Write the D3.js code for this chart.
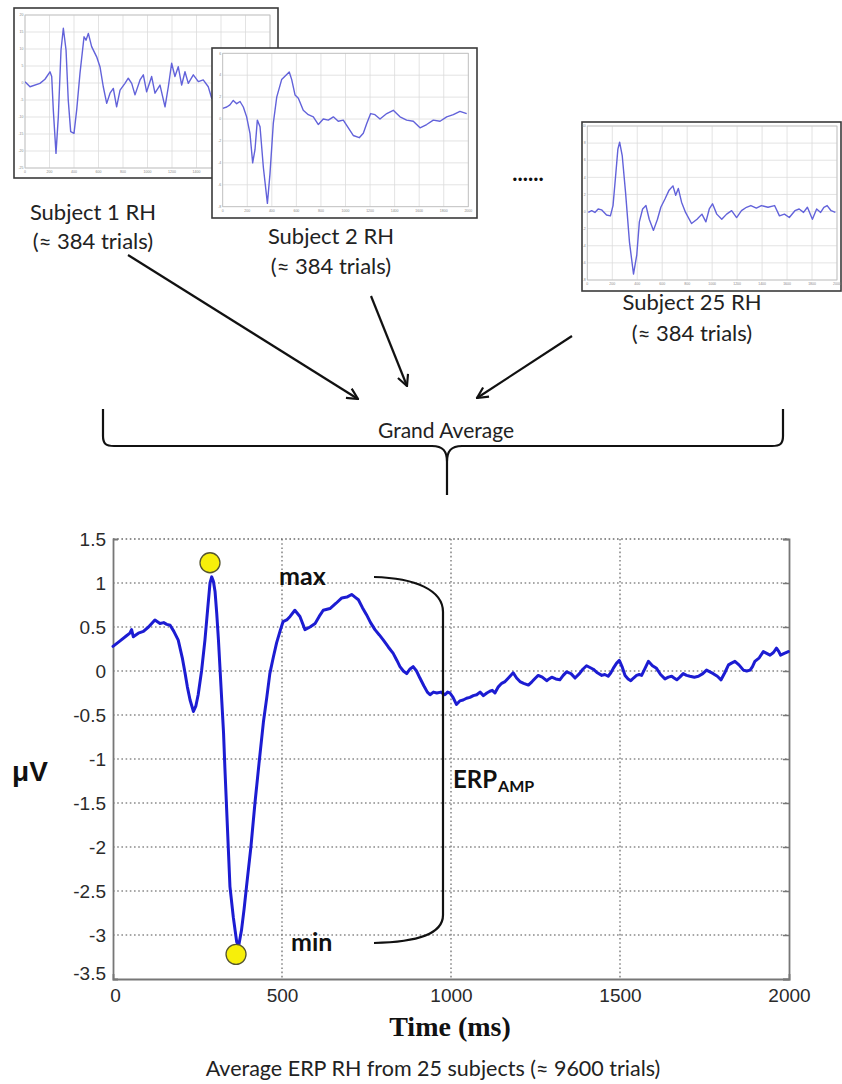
<!DOCTYPE html>
<html>
<head>
<meta charset="utf-8">
<script src="https://cdn.jsdelivr.net/npm/d3@7"></script>
<style>
  html, body { margin: 0; padding: 0; background: #fff; }
  svg { display: block; }
</style>
</head>
<body>
<svg id="chart" width="842" height="1084"></svg>
<script>
// ---------------- DATA ----------------
// Grand average ERP (main chart)
const erpTime = [0,20,40,50,55,60,75,90,105,124,139,150,159,169,180,193,205,213,220,228,238,245,252,262,272,280,287,292,297,302,307,312,317,322,327,331,336,341,346,356,366,372,380,388,395,408,420,432,445,455,464,474,484,494,503,514,524,538,553,568,583,598,610,622,642,660,677,692,706,716,726,738,750,762,775,788,800,815,829,840,849,859,869,878,888,898,908,920,930,938,948,958,970,982,990,997,1006,1016,1026,1036,1046,1056,1066,1076,1086,1096,1106,1115,1122,1130,1140,1150,1160,1172,1184,1194,1204,1215,1229,1240,1250,1258,1270,1283,1290,1298,1310,1322,1332,1342,1355,1367,1380,1390,1401,1411,1421,1433,1446,1455,1465,1473,1480,1490,1498,1506,1515,1524,1532,1540,1549,1557,1564,1574,1584,1596,1608,1620,1633,1643,1653,1660,1668,1677,1687,1697,1707,1720,1732,1745,1756,1766,1776,1788,1799,1810,1821,1830,1840,1852,1865,1875,1885,1892,1899,1912,1924,1934,1944,1954,1963,1970,1975,1986,1998];
const erpValue = [0.28,0.34,0.40,0.43,0.47,0.39,0.43,0.45,0.50,0.58,0.54,0.55,0.53,0.52,0.45,0.35,0.15,-0.02,-0.18,-0.33,-0.46,-0.40,-0.27,0.00,0.35,0.70,1.00,1.07,1.02,0.90,0.65,0.35,0.00,-0.35,-0.70,-1.10,-1.55,-2.00,-2.45,-2.80,-3.08,-3.12,-2.95,-2.70,-2.45,-2.00,-1.50,-1.05,-0.58,-0.30,-0.03,0.15,0.32,0.45,0.56,0.58,0.62,0.69,0.62,0.47,0.50,0.54,0.62,0.69,0.71,0.77,0.83,0.84,0.87,0.84,0.81,0.72,0.64,0.55,0.47,0.41,0.35,0.27,0.20,0.12,0.05,0.00,-0.03,0.02,0.05,0.00,-0.08,-0.17,-0.24,-0.27,-0.24,-0.25,-0.24,-0.27,-0.24,-0.25,-0.30,-0.38,-0.34,-0.33,-0.31,-0.30,-0.28,-0.27,-0.24,-0.28,-0.25,-0.23,-0.22,-0.25,-0.18,-0.14,-0.12,-0.07,-0.02,-0.08,-0.12,-0.14,-0.16,-0.12,-0.08,-0.05,-0.07,-0.11,-0.09,-0.07,-0.09,-0.10,-0.05,-0.01,-0.03,-0.08,-0.03,0.02,0.06,0.04,0.02,-0.02,-0.05,-0.04,-0.06,-0.02,0.03,0.09,0.12,0.05,-0.05,-0.09,-0.11,-0.08,-0.05,-0.04,-0.05,0.03,0.11,0.06,0.03,-0.04,-0.09,-0.07,-0.06,-0.08,-0.10,-0.07,-0.03,-0.05,-0.06,-0.07,-0.06,-0.03,0.01,-0.01,-0.03,-0.06,-0.10,-0.02,0.07,0.09,0.11,0.07,0.01,0.00,0.01,0.05,0.11,0.15,0.22,0.20,0.18,0.21,0.26,0.22,0.18,0.20,0.22];

const extremaTime = [287, 364];
const extremaValue = [1.23, -3.22];
const extremaLabels = ["max", "min"];

const mainXTicks = [0, 500, 1000, 1500, 2000];
const mainYTicks = [-3.5, -3, -2.5, -2, -1.5, -1, -0.5, 0, 0.5, 1, 1.5];

// Individual subjects (small panels)
const subject1Time = [0,41,122,163,204,218,231,253,272,294,313,335,353,373,400,422,449,482,498,517,544,585,612,639,667,694,721,748,776,816,843,871,898,939,966,993,1034,1061,1102,1143,1170,1197,1224,1251,1279,1306,1333,1374,1415,1455,1496,1524,1560,1600];
const subject1Value = [0.4,-1.1,-0.1,1.1,3.3,1.9,-7.9,-20.7,-9.9,9.7,16.1,9.7,-5,-14.3,-14.8,-7.9,2.9,13.6,12.6,14.6,10.7,7.7,4.8,-1.1,-6,-3,-1.6,-7,-2.1,-0.1,1.4,-0.1,-3.5,0.9,2.4,-2.6,1.9,-3,-0.6,-7,-1.1,5.8,1.9,4.8,-0.6,3.3,-0.1,2.4,0.4,0.9,-1.1,-4.5,-2.0,0.5];
const subject1YTicks = [-25,-20,-15,-10,-5,0,5,10,15,20];

const subject2Time = [0,33,59,86,114,141,168,195,222,244,263,282,304,331,364,385,412,440,480,507,542,562,589,616,656,697,738,779,819,860,901,941,982,1023,1063,1112,1145,1173,1205,1240,1281,1336,1389,1444,1498,1552,1607,1661,1715,1770,1824,1878,1932,1987];
const subject2Value = [0.98,1.1,1.3,1.7,1.4,1.6,1.1,0.2,-1.3,-4.0,-2.8,-0.1,-0.7,-4.4,-7.7,-5.0,-0.4,2.0,3.6,3.9,4.3,3.6,2.2,1.9,0.8,0.4,0.2,-0.5,0,-0.1,0.2,-0.2,-0.1,-0.8,-1.5,-1.7,-1.3,-0.4,0.5,0.4,0,0.5,0.8,0.2,-0.1,-0.2,-0.8,-0.5,-0.1,-0.2,0.2,0.4,0.7,0.5];
const subject2YTicks = [-8,-6,-4,-2,0,2,4,6];

const subject25Time = [8,35,61,87,114,154,185,206,227,245,259,280,306,338,370,396,417,443,470,496,530,562,589,623,655,686,708,729,755,787,835,879,918,950,977,1003,1037,1077,1116,1156,1196,1235,1275,1310,1354,1394,1447,1500,1539,1579,1618,1663,1697,1732,1763,1803,1837,1869,1895,1921,1953,1987];
const subject25Value = [-0.1,0.1,-0.1,0.3,0.2,-0.4,-0.5,0.7,4.2,7.3,8.1,6.5,2.3,-3.6,-7.3,-5.1,-1.2,0.3,0.7,-0.9,-2.2,-0.9,0.5,1.5,2.5,3.0,1.9,2.7,1.1,-0.1,-1.4,-0.9,-0.3,-1.2,0.3,0.9,-0.3,-0.9,-0.3,0.1,-0.7,0.1,0.5,0.7,0.4,0.7,0.5,0.7,-0.5,-0.3,-0.7,0.1,0.3,-0.1,0.5,-0.9,0.3,-0.1,0.5,0.7,0.1,-0.1];
const subject25YTicks = [-8,-6,-4,-2,0,2,4,6,8,10];

const smallXTicks = [0,200,400,600,800,1000,1200,1400,1600,1800,2000];
const subjectNames = ["Subject 1 RH", "Subject 2 RH", "Subject 25 RH"];
const trialsLabel = "(\u2248 384 trials)";

// ---------------- DRAWING ----------------
const svg = d3.select("#chart");
svg.append("rect").attr("width", 842).attr("height", 1084).attr("fill", "#fff");

const labelFont = "Lato, 'Open Sans', sans-serif";
const arialFont = "'Liberation Sans', Arial, sans-serif";

function drawSmall(cfg) {
  const g = svg.append("g");
  g.append("rect")
    .attr("x", cfg.box[0]).attr("y", cfg.box[1])
    .attr("width", cfg.box[2] - cfg.box[0]).attr("height", cfg.box[3] - cfg.box[1])
    .attr("fill", "#fff").attr("stroke", "#3a3a3a").attr("stroke-width", 1.6);
  const x = d3.scaleLinear().domain([0, 2000]).range([cfg.plot[0], cfg.plot[2]]);
  const y = d3.scaleLinear().domain(cfg.yDomain).range([cfg.plot[3], cfg.plot[1]]);
  const clipId = "clip" + cfg.id;
  g.append("clipPath").attr("id", clipId).append("rect")
    .attr("x", cfg.plot[0]).attr("y", cfg.plot[1])
    .attr("width", cfg.plot[2] - cfg.plot[0]).attr("height", cfg.plot[3] - cfg.plot[1]);
  g.append("g").selectAll("line").data(smallXTicks).join("line")
    .attr("x1", d => x(d)).attr("x2", d => x(d))
    .attr("y1", cfg.plot[1]).attr("y2", cfg.plot[3])
    .attr("stroke", "#dcdcdc").attr("stroke-width", 0.8);
  g.append("g").selectAll("line").data(cfg.yTicks).join("line")
    .attr("x1", cfg.plot[0]).attr("x2", cfg.plot[2])
    .attr("y1", d => y(d)).attr("y2", d => y(d))
    .attr("stroke", "#dcdcdc").attr("stroke-width", 0.8);
  g.append("rect")
    .attr("x", cfg.plot[0]).attr("y", cfg.plot[1])
    .attr("width", cfg.plot[2] - cfg.plot[0]).attr("height", cfg.plot[3] - cfg.plot[1])
    .attr("fill", "none").attr("stroke", "#bdbdbd").attr("stroke-width", 0.8);
  g.append("g").selectAll("text").data(smallXTicks).join("text")
    .attr("x", d => x(d)).attr("y", cfg.plot[3] + 5)
    .attr("text-anchor", "middle").attr("font-size", 3.5)
    .attr("font-family", arialFont).attr("fill", "#888").text(d => d);
  g.append("g").selectAll("text").data(cfg.yTicks).join("text")
    .attr("x", cfg.plot[0] - 1.5).attr("y", d => y(d) + 1.2)
    .attr("text-anchor", "end").attr("font-size", 3.5)
    .attr("font-family", arialFont).attr("fill", "#888").text(d => d);
  const line = d3.line().x(d => x(d[0])).y(d => y(d[1]));
  g.append("path")
    .datum(d3.zip(cfg.time, cfg.value))
    .attr("clip-path", `url(#${clipId})`)
    .attr("d", line).attr("fill", "none")
    .attr("stroke", "#6262da").attr("stroke-width", 1.4)
    .attr("stroke-linejoin", "round");
}

drawSmall({ id: 1, box: [14, 8, 278, 178], plot: [25, 15, 270, 168], yDomain: [-25, 20],
  yTicks: subject1YTicks, time: subject1Time, value: subject1Value });
drawSmall({ id: 2, box: [212, 48, 477, 218], plot: [222.7, 53.3, 468.3, 206.7], yDomain: [-8, 6],
  yTicks: subject2YTicks, time: subject2Time, value: subject2Value });
drawSmall({ id: 25, box: [582, 122, 841, 291], plot: [587.3, 126, 837, 280], yDomain: [-8, 10],
  yTicks: subject25YTicks, time: subject25Time, value: subject25Value });

// subject captions
const capPos = [[93, 220, 249], [331, 244, 274], [692, 310, 341]];
subjectNames.forEach((name, i) => {
  svg.append("text").attr("x", capPos[i][0]).attr("y", capPos[i][1])
    .attr("text-anchor", "middle").attr("font-family", labelFont).attr("font-size", 22)
    .attr("fill", "#222").text(name);
  svg.append("text").attr("x", capPos[i][0]).attr("y", capPos[i][2])
    .attr("text-anchor", "middle").attr("font-family", labelFont).attr("font-size", 22)
    .attr("fill", "#222").text(trialsLabel);
});
svg.append("text").attr("x", 528).attr("y", 181).attr("text-anchor", "middle")
  .attr("font-family", labelFont).attr("font-weight", "bold").attr("font-size", 22)
  .attr("fill", "#111").text("......");

// arrows
const defs = svg.append("defs");
defs.append("marker").attr("id", "arrowhead").attr("viewBox", "0 0 12 12")
  .attr("refX", 11).attr("refY", 6).attr("markerWidth", 13).attr("markerHeight", 13)
  .attr("markerUnits", "userSpaceOnUse").attr("orient", "auto")
  .append("path").attr("d", "M1,1 L11,6 L1,11").attr("fill", "none")
  .attr("stroke", "#111").attr("stroke-width", 2);
const arrows = [[128, 255, 358, 399], [371, 296, 407, 386], [572, 336, 477, 398]];
svg.append("g").selectAll("line").data(arrows).join("line")
  .attr("x1", d => d[0]).attr("y1", d => d[1]).attr("x2", d => d[2]).attr("y2", d => d[3])
  .attr("stroke", "#111").attr("stroke-width", 2.2).attr("marker-end", "url(#arrowhead)");

// brace
svg.append("path")
  .attr("d", "M103,409 L103,436 C103,444 106,446 114,446 L432,446 C443,446 447,451 447,462 L447,495 M447,462 C447,451 451,446 462,446 L772,446 C780,446 783,444 783,436 L783,409")
  .attr("fill", "none").attr("stroke", "#111").attr("stroke-width", 2.2);
svg.append("text").attr("x", 446).attr("y", 438).attr("text-anchor", "middle")
  .attr("font-family", labelFont).attr("font-size", 21).attr("fill", "#222").text("Grand Average");

// ---------------- MAIN CHART ----------------
const X0 = 113, X1 = 789, Y0 = 539, Y1 = 979;
const x = d3.scaleLinear().domain([0, 2000]).range([X0, X1]);
const y = d3.scaleLinear().domain([-3.5, 1.5]).range([Y1, Y0]);
const main = svg.append("g");

main.append("g").selectAll("line").data(mainXTicks.filter(d => d > 0 && d < 2000)).join("line")
  .attr("x1", d => x(d)).attr("x2", d => x(d)).attr("y1", Y0).attr("y2", Y1)
  .attr("stroke", "#8a8a8a").attr("stroke-width", 1.6).attr("stroke-dasharray", "1.6,2.6");
main.append("g").selectAll("line").data(mainYTicks.filter(d => d > -3.5 && d < 1.5)).join("line")
  .attr("x1", X0).attr("x2", X1).attr("y1", d => y(d)).attr("y2", d => y(d))
  .attr("stroke", "#8a8a8a").attr("stroke-width", 1.6).attr("stroke-dasharray", "1.6,2.6");
main.append("line").attr("x1", X0).attr("x2", X1).attr("y1", Y0).attr("y2", Y0)
  .attr("stroke", "#6a6a6a").attr("stroke-width", 1.6).attr("stroke-dasharray", "1.6,2.6");

const axB = d3.axisBottom(x).tickValues(mainXTicks).tickSize(-5).tickPadding(10).tickFormat(d => String(d));
const axL = d3.axisLeft(y).tickValues(mainYTicks).tickSize(-5).tickPadding(7).tickFormat(d => String(d));
const axR = d3.axisRight(y).tickValues(mainYTicks).tickSize(-6).tickFormat("");
const gB = main.append("g").attr("transform", `translate(0,${Y1})`).call(axB);
const gL = main.append("g").attr("transform", `translate(${X0},0)`).call(axL);
const gR = main.append("g").attr("transform", `translate(${X1},0)`).call(axR);
[gB, gL, gR].forEach(g => {
  g.select(".domain").attr("stroke", "#777").attr("stroke-width", 1.8);
  g.selectAll(".tick line").attr("stroke", "#777").attr("stroke-width", 1.5);
  g.selectAll("text").attr("font-family", arialFont).attr("font-size", 19).attr("fill", "#2a2a2a");
});
gB.selectAll(".tick line").attr("stroke", "none");
gL.selectAll(".tick line").attr("stroke", "none");
gL.selectAll(".tick").filter(d => d === -3.5).select("text").attr("dy", "0.05em");
gB.selectAll(".tick").filter(d => d === 0).select("text").attr("dx", "0.1em");

const erpLine = d3.line().x(d => x(d[0])).y(d => y(d[1]));
main.append("path").datum(d3.zip(erpTime, erpValue))
  .attr("d", erpLine).attr("fill", "none")
  .attr("stroke", "#1c1cd2").attr("stroke-width", 3)
  .attr("stroke-linejoin", "round").attr("stroke-linecap", "round");

main.append("g").selectAll("circle").data(d3.zip(extremaTime, extremaValue)).join("circle")
  .attr("cx", d => x(d[0])).attr("cy", d => y(d[1])).attr("r", 10)
  .attr("fill", "#f7ef0a").attr("stroke", "#555530").attr("stroke-width", 1.3);

main.append("text").attr("x", 279).attr("y", 585).attr("font-family", labelFont)
  .attr("font-weight", "bold").attr("font-size", 25).attr("fill", "#111").text(extremaLabels[0]);
main.append("text").attr("x", 291).attr("y", 951).attr("font-family", labelFont)
  .attr("font-weight", "bold").attr("font-size", 25).attr("fill", "#111").text(extremaLabels[1]);
main.append("path")
  .attr("d", "M374,577 C415,578 443,590 443,612 L443,915 C443,934 418,942 374,943")
  .attr("fill", "none").attr("stroke", "#111").attr("stroke-width", 2.2);
const amp = main.append("text").attr("x", 453).attr("y", 788).attr("font-family", labelFont)
  .attr("font-weight", "bold").attr("font-size", 24).attr("fill", "#111");
amp.append("tspan").text("ERP");
amp.append("tspan").attr("font-size", 16).attr("dy", 4).attr("dx", 1).text("AMP");

svg.append("text").attr("x", 12).attr("y", 781).attr("font-family", arialFont)
  .attr("font-weight", "bold").attr("font-size", 28).attr("fill", "#111").text("\u03bcV");
svg.append("text").attr("x", 450).attr("y", 1036).attr("text-anchor", "middle")
  .attr("font-family", "'Liberation Serif', 'Times New Roman', serif")
  .attr("font-weight", "bold").attr("font-size", 28).attr("fill", "#111").text("Time (ms)");
svg.append("text").attr("x", 433).attr("y", 1076).attr("text-anchor", "middle")
  .attr("font-family", labelFont).attr("font-size", 21.5).attr("fill", "#222")
  .text("Average ERP RH from 25 subjects (\u2248 9600 trials)");
</script>
</body>
</html>
